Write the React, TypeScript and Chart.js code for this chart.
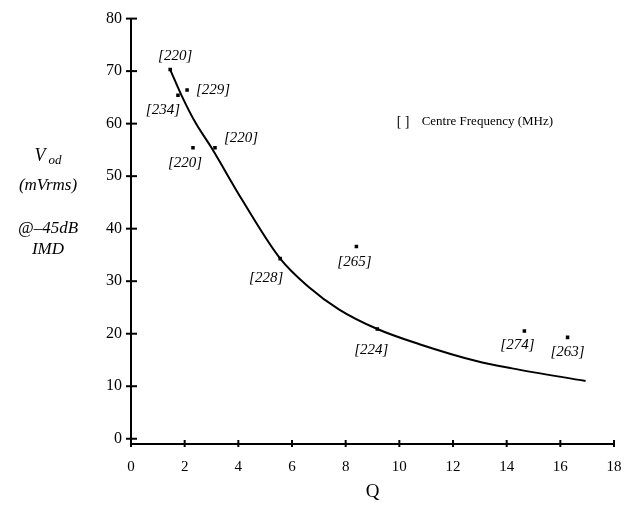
import React, { useEffect, useRef } from "react";
import { Chart, registerables } from "chart.js";

Chart.register(...registerables);

// Measured points (Q, Vod) with centre frequency labels
const pointQ = [1.46, 2.09, 1.75, 2.31, 3.13, 5.56, 8.4, 9.18, 14.66, 16.27];
const pointV = [70.3, 66.4, 65.4, 55.4, 55.4, 34.3, 36.6, 20.9, 20.5, 19.3];
const pointLabels = ["[220]", "[229]", "[234]", "[220]", "[220]", "[228]", "[265]", "[224]", "[274]", "[263]"];
// label placement relative to each point (pixels)
const labelOffsets: [number, number][] = [
  [5, -13], [26, 0], [-15, 15], [-8, 15], [26, -10], [-14, 19], [-2, 16], [-6, 21], [-7, 14], [0, 15],
];

// Fitted curve
const curveQ = [1.46, 1.9, 2.4, 3.0, 4.14, 5.56, 6.6, 7.76, 9.18, 10.75, 12.87, 14.2, 16.94];
const curveV = [70.3, 65.2, 60.2, 55.4, 45.5, 34.3, 29.0, 24.6, 20.9, 18.0, 14.8, 13.4, 11.0];

const xTicks = [0, 2, 4, 6, 8, 10, 12, 14, 16, 18];
const yTicks = [0, 10, 20, 30, 40, 50, 60, 70, 80];

const legendText = "Centre Frequency (MHz)";

const SERIF = "'Liberation Serif', 'DejaVu Serif', serif";

const annotations = {
  id: "annotations",
  afterDatasetsDraw(chart: any) {
    const { ctx, scales } = chart;
    const xs = scales.x;
    const ys = scales.y;
    ctx.save();
    // cross ticks on axes
    ctx.strokeStyle = "#000";
    ctx.lineWidth = 2;
    const axisY = chart.chartArea.bottom;
    const axisX = chart.chartArea.left;
    xTicks.forEach((t) => {
      const px = xs.getPixelForValue(t);
      ctx.beginPath();
      ctx.moveTo(px, axisY - 4);
      ctx.lineTo(px, axisY + 3);
      ctx.stroke();
    });
    yTicks.forEach((t) => {
      const py = ys.getPixelForValue(t);
      ctx.beginPath();
      ctx.moveTo(axisX - 5, py);
      ctx.lineTo(axisX + 6, py);
      ctx.stroke();
    });
    // point labels
    ctx.fillStyle = "#000";
    ctx.font = `italic 15px ${SERIF}`;
    ctx.textAlign = "center";
    ctx.textBaseline = "middle";
    pointLabels.forEach((lab, i) => {
      const px = xs.getPixelForValue(pointQ[i]);
      const py = ys.getPixelForValue(pointV[i]);
      ctx.fillText(lab, px + labelOffsets[i][0], py + labelOffsets[i][1]);
    });
    // legend note
    const lx = xs.getPixelForValue(9.9);
    const ly = ys.getPixelForValue(60.3);
    ctx.font = `14px ${SERIF}`;
    ctx.textAlign = "left";
    ctx.fillText("[ ]", lx, ly);
    ctx.font = `13px ${SERIF}`;
    ctx.fillText(legendText, lx + 25, ly);
    // y title
    ctx.textAlign = "center";
    ctx.font = `italic 18px ${SERIF}`;
    ctx.fillText("V", 40, 156);
    ctx.font = `italic 13px ${SERIF}`;
    ctx.fillText("od", 55, 161);
    ctx.font = `italic 17px ${SERIF}`;
    ctx.fillText("(mVrms)", 48, 186);
    ctx.fillText("@\u201345dB", 48, 229);
    ctx.fillText("IMD", 48, 250);
    ctx.restore();
  },
};

export default function App() {
  const ref = useRef<HTMLCanvasElement>(null);
  useEffect(() => {
    document.body.style.margin = "0";
    const chart = new Chart(ref.current!, {
      type: "scatter",
      data: {
        datasets: [
          {
            type: "line",
            data: curveQ.map((q, i) => ({ x: q, y: curveV[i] })),
            borderColor: "#000",
            borderWidth: 2,
            pointRadius: 0,
            tension: 0.4,
            cubicInterpolationMode: "monotone",
            fill: false,
          } as any,
          {
            data: pointQ.map((q, i) => ({ x: q, y: pointV[i] })),
            backgroundColor: "#000",
            borderColor: "#000",
            pointStyle: "rect",
            pointRadius: 2.5,
            borderWidth: 0,
          },
        ],
      },
      options: {
        animation: false,
        responsive: false,
        maintainAspectRatio: false,
        layout: { padding: { top: 18, right: 10, left: 0, bottom: 0 } },
        plugins: { legend: { display: false }, tooltip: { enabled: false } },
        scales: {
          x: {
            type: "linear",
            min: 0,
            max: 18,
            afterBuildTicks: (s: any) => {
              s.ticks = xTicks.map((v) => ({ value: v }));
            },
            afterFit: (s: any) => {
              s.height = 71;
              s.paddingRight = 0;
            },
            grid: { display: false, drawTicks: false },
            border: { display: true, color: "#000", width: 2 },
            ticks: {
              color: "#000",
              padding: 14,
              font: { family: SERIF, size: 15 },
              maxRotation: 0,
            },
            title: {
              display: true,
              text: "Q",
              color: "#000",
              font: { family: SERIF, size: 19 },
              padding: { top: 0, bottom: 12 },
            },
          },
          y: {
            type: "linear",
            min: -1,
            max: 80,
            afterBuildTicks: (s: any) => {
              s.ticks = yTicks.map((v) => ({ value: v }));
            },
            afterFit: (s: any) => {
              s.width = 131;
            },
            grid: { display: false, drawTicks: false },
            border: { display: true, color: "#000", width: 2 },
            ticks: {
              color: "#000",
              padding: 9,
              font: { family: SERIF, size: 16 },
            },
          },
        },
      },
      plugins: [annotations],
    });
    return () => chart.destroy();
  }, []);
  return (
    <div style={{ width: 624, height: 515 }}>
      <canvas ref={ref} width={624} height={515} style={{ width: 624, height: 515 }} />
    </div>
  );
}
